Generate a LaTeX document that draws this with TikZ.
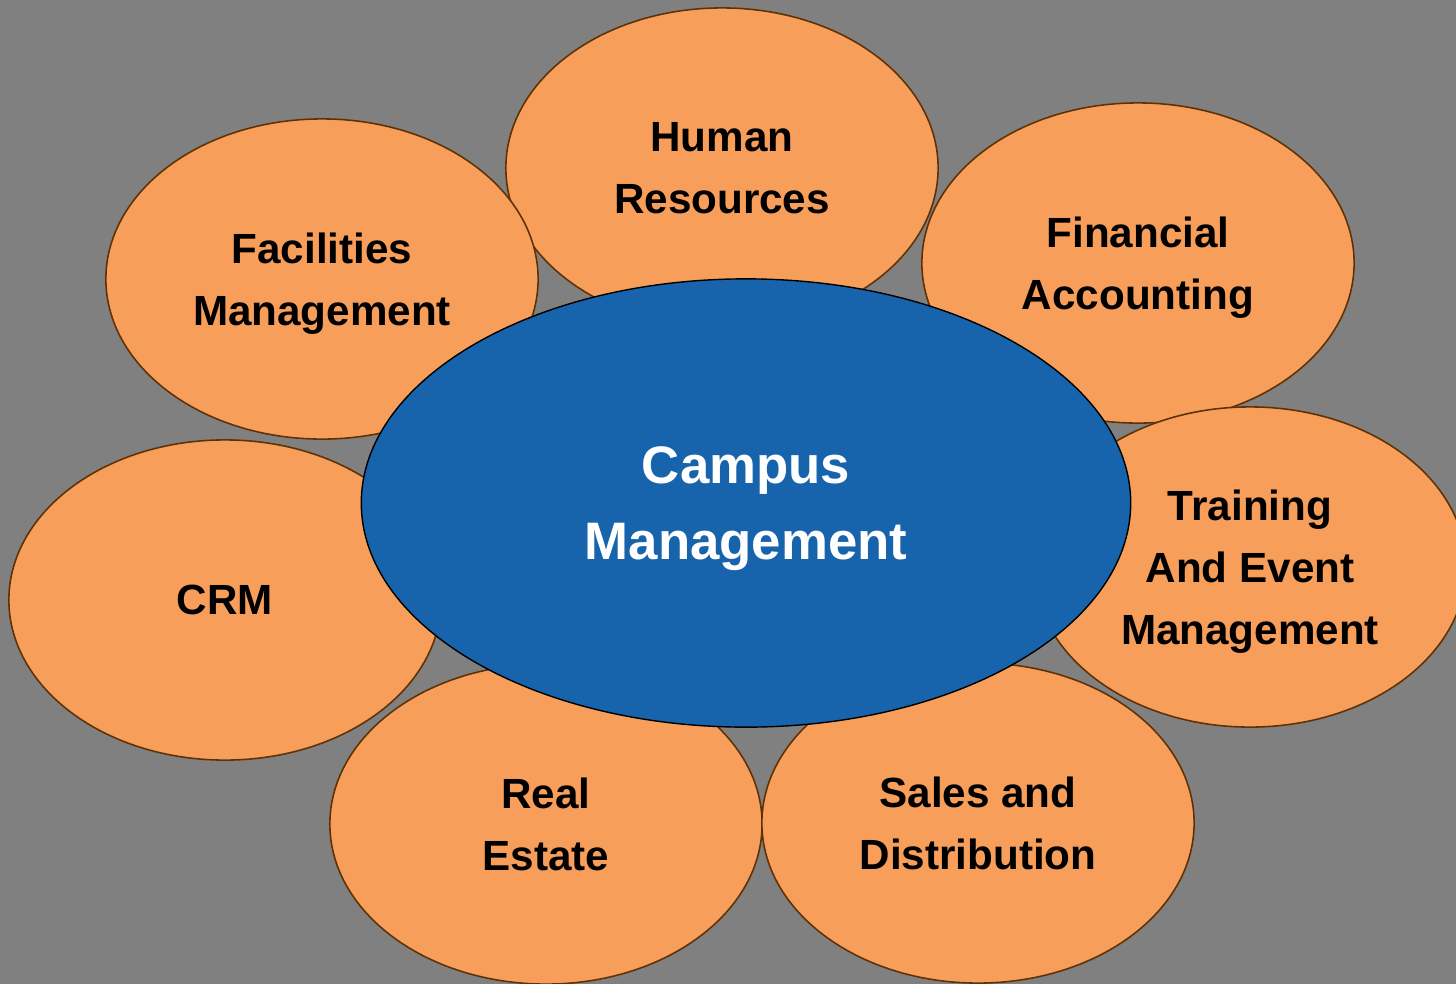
\documentclass[tikz,border=0pt]{standalone}
\usepackage{fontspec}
\setmainfont{Liberation Sans}
\usetikzlibrary{shapes.geometric}
\usepackage{xcolor}

\definecolor{bgGray}{HTML}{808080}
\definecolor{petalOrange}{HTML}{F89E5B}
\definecolor{petalEdge}{HTML}{5E3206}
\definecolor{hubBlue}{HTML}{1763AC}

\begin{document}
\begin{tikzpicture}[x=0.01cm,y=-0.01cm,
    petal/.style={ellipse,draw=petalEdge,line width=0.45pt,fill=petalOrange,
        minimum width=4.32cm,minimum height=3.2cm,inner sep=0pt,align=center,
        text depth=0pt,font=\bfseries\fontsize{12}{17.6}\selectfont},
    hub/.style={ellipse,draw=black,line width=0.4pt,fill=hubBlue,text=white,
        minimum width=7.69cm,minimum height=4.48cm,inner sep=0pt,align=center,
        text depth=0pt,font=\bfseries\fontsize{15}{21.8}\selectfont}]
    \fill[bgGray] (0,0) rectangle (1456,984);
    \useasboundingbox (0,0) rectangle (1456,984);
    % outer petals
    \node[petal] (crm) at (225,600) {CRM};
    \node[petal] (realest) at (546,824) {Real\\Estate};
    \node[petal] (sales) at (978,823) {Sales and\\Distribution};
    \node[petal] (hr) at (722,168) {Human\\Resources};
    \node[petal] (fac) at (322,279) {Facilities\\Management};
    \node[petal] (fin) at (1138,263) {Financial\\Accounting};
    \node[petal] (train) at (1250,567) {Training\\And Event\\Management};
    % centre
    \node[hub] (campus) at (746,503) {Campus\\Management};
\end{tikzpicture}
\end{document}
